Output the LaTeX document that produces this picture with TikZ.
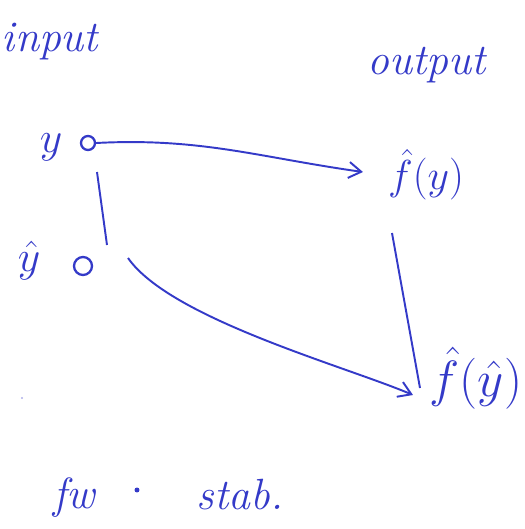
\documentclass[tikz,border=0pt]{standalone}
\usepackage{tikz}
\usetikzlibrary{positioning,calc,arrows.meta}
\definecolor{handblue}{RGB}{52,58,200}
\tikzset{>={Straight Barb[length=2.5mm,width=3.2mm]}}

\begin{document}
\begin{tikzpicture}[
    node distance=0.4cm,
    ink/.style={text=handblue, font=\Huge\itshape},
    val/.style={text=handblue, font=\huge, inner sep=1pt},
    pt/.style={circle, draw=handblue, line width=1.3pt, minimum size=0.28cm, inner sep=0pt},
    wire/.style={draw=handblue, line width=1.1pt}
]
\useasboundingbox (0,0) rectangle (10.5,10.58);

% input side
\node[ink] (input) at (1.0,9.74) {input};
\node[val, scale=1.2] (y) at (1.02,7.64) {$y$};
\node[pt] (ycirc) at (1.76,7.72) {};
\node[val, scale=1.2] (yhat) at (0.58,5.36) {$\hat{y}$};
\node[pt, minimum height=0.36cm] (yhatcirc) at (1.66,5.26) {};

% output side
\node[ink] (output) at (8.54,9.28) {output};
\node[val, scale=1.15] (fy) at (8.52,7.08) {$\hat{f}(y)$};
\node[val, scale=1.4] (fyhat) at (9.52,3.02) {$\hat{f}(\hat{y})$};

\draw[wire, ->] (ycirc.east) to[out=3, in=172] ($(fy)+(-1.26,0.06)$);
\draw[wire] ($(ycirc)+(0.18,-0.58)$) -- ($(yhatcirc)+(0.48,0.42)$);
\draw[wire, ->] ($(yhatcirc)+(0.9,0.16)$) to[out=-55, in=157, looseness=0.6] ($(fyhat)+(-1.26,-0.34)$);
\draw[wire] ($(fy)+(-0.68,-1.16)$) -- ($(fyhat)+(-1.12,-0.2)$);

% stray dot
\node[circle, fill=handblue!40, inner sep=0.5pt] (speck) at (0.44,2.62) {};

% bottom note
\node[ink] (fw) at (1.48,0.62) {fw};
\node[circle, fill=handblue, inner sep=1pt] (sep) at (2.74,0.78) {};
\node[ink] (stab) at (4.8,0.68) {stab.};
\end{tikzpicture}
\end{document}
